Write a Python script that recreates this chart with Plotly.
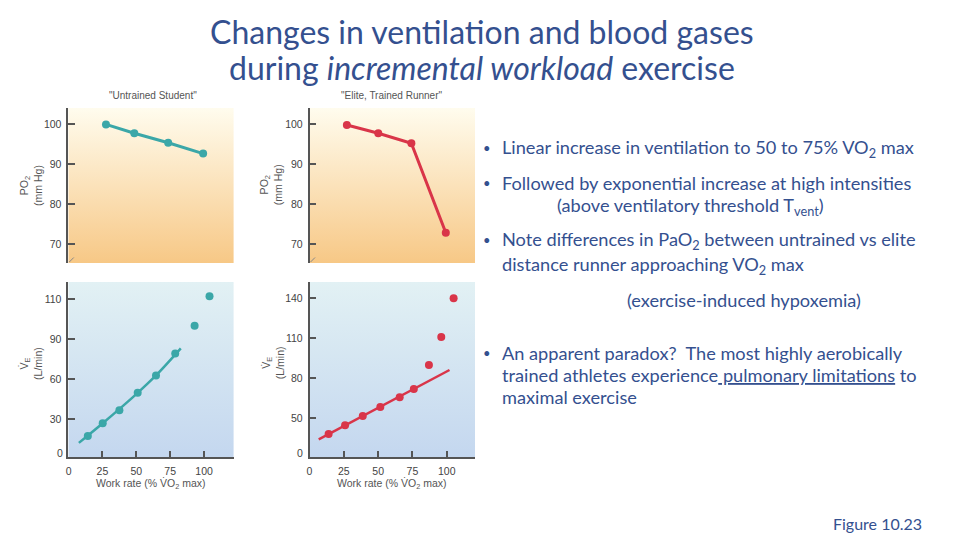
import plotly.graph_objects as go

W, H = 960, 540

# ---------------- data ----------------
untrained_po2_x = [27.6, 48.5, 73.5, 99.3]
untrained_po2_y = [99.9, 97.7, 95.3, 92.6]
elite_po2_x = [27.2, 50.1, 74.2, 99.3]
elite_po2_y = [99.75, 97.7, 95.2, 72.8]

# ventilation panels use the drawn (broken) axis scale of the original figure
untrained_ve_x = [14.2, 25.2, 37.5, 51.0, 64.5, 78.7, 93.0, 104.0]
untrained_ve_y = [17.5, 27.0, 36.75, 49.75, 62.75, 79.25, 100.0, 122.0]
untrained_fit_x = [7.6, 25.2, 51.0, 64.5, 82.8]
untrained_fit_y = [12.3, 27.0, 49.75, 62.75, 83.0]

elite_ve_x = [13.9, 25.9, 38.8, 51.6, 65.7, 76.0, 87.0, 96.0, 105.0]
elite_ve_y = [38.25, 44.75, 51.75, 58.5, 65.75, 72.0, 90.0, 111.0, 140.0]
elite_fit_x = [6.7, 102.0]
elite_fit_y = [34.25, 86.25]

po2_ticks = [70, 80, 90, 100]
work_ticks = [0, 25, 50, 75, 100]
ve_left_tickvals = [30, 60, 90, 120]
ve_left_ticktext = ["30", "60", "90", "110"]
ve_right_tickvals = [50, 80, 110, 140]
ve_right_ticktext = ["50", "80", "110", "140"]

TEAL = "#3ba7a8"
RED = "#d93549"
AX = "#555555"
BLUE = "#34508f"

# ---------------- layout geometry (pixels) ----------------
XL = (65.5, 231.5)
XR = (307.5, 473.5)
YT = (108, 263)
YB = (282, 457.3)

def dx(px):
    return (px[0] / W, px[1] / W)

def dy(py):
    return (1 - py[1] / H, 1 - py[0] / H)

rng = {
    "x1": [-0.2, 121.9], "y1": [65.25, 104],
    "x2": [0.0, 120.6], "y2": [65.25, 104],
    "x3": [-0.2, 121.9], "y3": [1.5, 132.75],
    "x4": [0.0, 120.6], "y4": [20.8, 152.25],
}

fig = go.Figure()

def bg(xa, ya, top, bottom):
    x0, x1 = rng[xa]
    y0, y1 = rng[ya]
    fig.add_trace(go.Scatter(
        x=[x0, x1, x1, x0, x0], y=[y0, y0, y1, y1, y0],
        mode="lines", line=dict(width=0), fill="toself",
        fillgradient=dict(type="vertical", start=y0, stop=y1,
                          colorscale=[[0, bottom], [1, top]]),
        hoverinfo="skip", showlegend=False,
        xaxis=xa.replace("x1", "x"), yaxis=ya.replace("y1", "y")))

YEL_TOP, YEL_BOT = "#fffcee", "#f7c886"
BLU_TOP, BLU_BOT = "#e2f1f4", "#c4d7ef"
bg("x1", "y1", YEL_TOP, YEL_BOT)
bg("x2", "y2", YEL_TOP, YEL_BOT)
bg("x3", "y3", BLU_TOP, BLU_BOT)
bg("x4", "y4", BLU_TOP, BLU_BOT)

fig.add_trace(go.Scatter(x=untrained_po2_x, y=untrained_po2_y, mode="lines+markers",
                         line=dict(color=TEAL, width=3), marker=dict(size=8, color=TEAL),
                         xaxis="x", yaxis="y", showlegend=False))
fig.add_trace(go.Scatter(x=elite_po2_x, y=elite_po2_y, mode="lines+markers",
                         line=dict(color=RED, width=3), marker=dict(size=8, color=RED),
                         xaxis="x2", yaxis="y2", showlegend=False))
fig.add_trace(go.Scatter(x=untrained_fit_x, y=untrained_fit_y, mode="lines",
                         line=dict(color=TEAL, width=2.5, shape="spline"),
                         xaxis="x3", yaxis="y3", showlegend=False))
fig.add_trace(go.Scatter(x=untrained_ve_x, y=untrained_ve_y, mode="markers",
                         marker=dict(size=8, color=TEAL),
                         xaxis="x3", yaxis="y3", showlegend=False))
fig.add_trace(go.Scatter(x=elite_fit_x, y=elite_fit_y, mode="lines",
                         line=dict(color=RED, width=2.5),
                         xaxis="x4", yaxis="y4", showlegend=False))
fig.add_trace(go.Scatter(x=elite_ve_x, y=elite_ve_y, mode="markers",
                         marker=dict(size=8, color=RED),
                         xaxis="x4", yaxis="y4", showlegend=False))

TICKFONT = dict(family="Liberation Sans, Arial, sans-serif", size=10.5, color="#444444")

def yax(dom, r, vals, text=None):
    d = dict(domain=dy(dom), range=r, showgrid=False, zeroline=False,
             showline=True, linecolor=AX, linewidth=1.5,
             ticks="inside", ticklen=7, tickwidth=1.5, tickcolor=AX,
             tickvals=vals, tickfont=TICKFONT, ticklabelstandoff=3, fixedrange=True)
    if text:
        d["ticktext"] = text
    return d

def xax(dom, r, anchor, show):
    d = dict(domain=dx(dom), range=r, showgrid=False, zeroline=False, anchor=anchor,
             fixedrange=True)
    if show:
        d.update(showline=True, linecolor=AX, linewidth=1.5, ticks="inside", ticklen=7,
                 tickwidth=1.5, tickcolor=AX, tickvals=work_ticks, tickfont=TICKFONT,
                 ticklabelstandoff=3)
    else:
        d.update(showline=False, showticklabels=False, ticks="")
    return d

fig.update_layout(
    width=W, height=H, margin=dict(l=0, r=0, t=0, b=0),
    paper_bgcolor="white", plot_bgcolor="rgba(0,0,0,0)",
    xaxis=xax(XL, rng["x1"], "y", False),
    yaxis=yax(YT, rng["y1"], po2_ticks) | dict(anchor="x"),
    xaxis2=xax(XR, rng["x2"], "y2", False),
    yaxis2=yax(YT, rng["y2"], po2_ticks) | dict(anchor="x2"),
    xaxis3=xax(XL, rng["x3"], "y3", True),
    yaxis3=yax(YB, rng["y3"], ve_left_tickvals, ve_left_ticktext) | dict(anchor="x3"),
    xaxis4=xax(XR, rng["x4"], "y4", True),
    yaxis4=yax(YB, rng["y4"], ve_right_tickvals, ve_right_ticktext) | dict(anchor="x4"),
)

def P(x, y):
    return x / W, 1 - y / H

ann = []
def add(text, x, y, size, color, family, xanchor="center", yanchor="middle", angle=0, align="center"):
    px, py = P(x, y)
    ann.append(dict(text=text, x=px, y=py, xref="paper", yref="paper", showarrow=False,
                    xanchor=xanchor, yanchor=yanchor, textangle=angle, align=align,
                    font=dict(size=size, color=color, family=family)))

TF = "Lato, Open Sans, sans-serif"
FF = "Liberation Sans, Arial, sans-serif"

# Title
add("Changes in ventilation and blood gases", 480, 32, 32, BLUE, TF)
add("during <i>incremental workload</i> exercise", 480, 68, 32, BLUE, TF)

# Panel headers
add("\"Untrained Student\"", 150, 95, 10, "#555555", FF)
add("\"Elite, Trained Runner\"", 390, 95, 10, "#555555", FF)

# axis titles
add("PO<sub>2</sub><br>(mm Hg)", 28, 185, 10.5, "#555555", FF, angle=-90)
add("PO<sub>2</sub><br>(mm Hg)", 269, 185, 10.5, "#555555", FF, angle=-90)
add("V\u0307<sub>E</sub><br>(L/min)", 28, 363, 10.5, "#555555", FF, angle=-90)
add("V\u0307<sub>E</sub><br>(L/min)", 271, 363, 10.5, "#555555", FF, angle=-90)
add("Work rate (% V\u0307O<sub>2</sub> max)", 148.5, 484, 10.5, "#555555", FF)
add("Work rate (% V\u0307O<sub>2</sub> max)", 390, 484, 10.5, "#555555", FF)

# '0' corner labels on ventilation axes
add("0", 62, 453, 10.5, "#444444", FF, xanchor="right")
add("0", 303, 453, 10.5, "#444444", FF, xanchor="right")

# Bullets
BS = 18.2
lines = [
    (499, 148, "Linear increase in ventilation to 50 to 75% VO<sub>2</sub> max", True),
    (499, 183, "Followed by exponential increase at high intensities", True),
    (554, 207, "(above ventilatory threshold T<sub>vent</sub>)", False),
    (499, 240, "Note differences in PaO<sub>2</sub> between untrained vs elite", True),
    (499, 265, "distance runner approaching VO<sub>2</sub> max", False),
    (624, 300, "(exercise-induced hypoxemia)", False),
    (499, 353, "An apparent paradox?  The most highly aerobically", True),
    (499, 375, "trained athletes experience<u> pulmonary limitations</u> to", False),
    (499, 397, "maximal exercise", False),
]
for x, y, t, bullet in lines:
    add(t, x, y, BS, BLUE, TF, xanchor="left")
    if bullet:
        add("\u2022", 486, y, 13, BLUE, TF)

add("Figure 10.23", 877, 523, 16, BLUE, TF)

fig.update_layout(annotations=ann)

# small axis-break marks at the corner of the PO2 panels
shapes = []
for x0 in (XL[0], XR[0]):
    shapes.append(dict(type="line", xref="paper", yref="paper",
                       x0=(x0 + 1) / W, y0=1 - 262 / H, x1=(x0 + 5.5) / W, y1=1 - 257.5 / H,
                       line=dict(color="#888888", width=1)))
fig.update_layout(shapes=shapes)

fig.write_html("out.html")
